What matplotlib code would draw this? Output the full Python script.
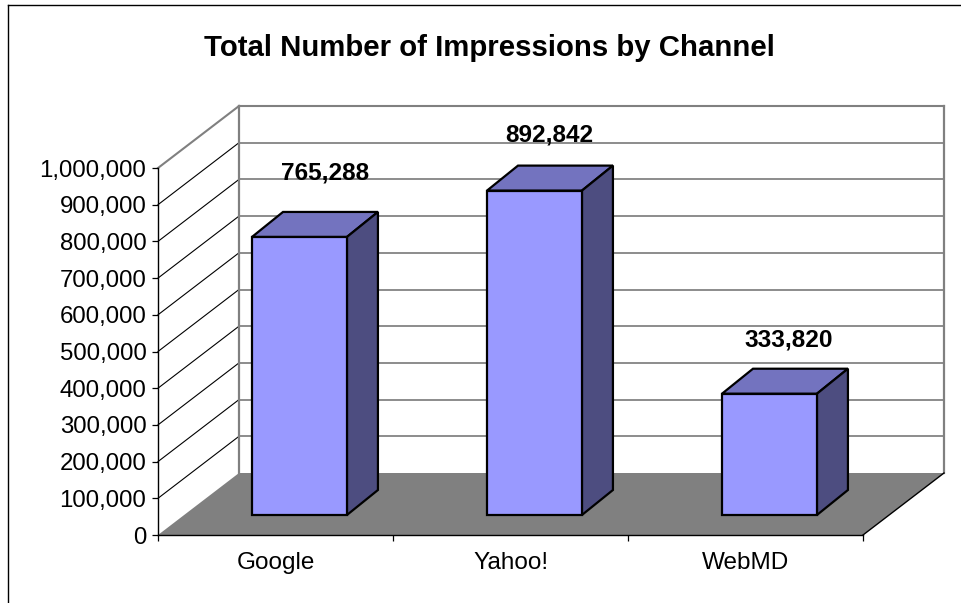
import matplotlib
matplotlib.use("Agg")
import matplotlib.pyplot as plt
from matplotlib.lines import Line2D

plt.rcParams['font.family'] = ['Liberation Sans', 'DejaVu Sans']

channels = ['Google', 'Yahoo!', 'WebMD']
impressions = [765288, 892842, 333820]
y_ticks = [0, 100000, 200000, 300000, 400000, 500000, 600000, 700000, 800000, 900000, 1000000]

W, H = 962, 603
fig = plt.figure(figsize=(W / 100, H / 100), dpi=100)
ax = fig.add_axes([158 / W, 1 - 535 / H, 705 / W, 367 / H])
ax.set_xlim(0, 3)
ax.set_ylim(0, 1000000)
ax.patch.set_visible(False)

# depth of the fake 3d box, in data units
wall_dx, wall_dy = 81 / 235, 62 / 367 * 1000000
bar_dx, bar_dy = 31 / 235, 25 / 367 * 1000000
bar_lift = 20 / 367 * 1000000
bar_shift = 0.102
bar_w = 0.404
bar_scale = 0.99
# the data labels were moved by hand in the original
label_gaps = [174000, 152000, 146000]
label_shifts = [0.108, 0.062, 0.083]

# floor
ax.fill([0, 3, 3 + wall_dx, wall_dx], [0, 0, wall_dy, wall_dy], color='#808080', lw=0, clip_on=False, zorder=1)
ax.plot([3, 3 + wall_dx], [0, wall_dy], color='black', lw=1, clip_on=False, zorder=2)

# back wall and side wall gridlines
for v in y_ticks[1:]:
    top = v == y_ticks[-1]
    ax.plot([wall_dx, 3 + wall_dx], [v + wall_dy, v + wall_dy], color='#808080' if top else '#6e6e6e',
            lw=1.5 if top else 1.1, clip_on=False, zorder=1)
    ax.plot([0, wall_dx], [v, v + wall_dy], color='#808080' if top else 'black',
            lw=1.5 if top else 0.8, clip_on=False, zorder=1)
for xw in [wall_dx, 3 + wall_dx]:
    ax.plot([xw, xw], [wall_dy, 1000000 + wall_dy], color='#808080', lw=1.6, clip_on=False, zorder=1)

# bars
xpos = [i + 0.5 + bar_shift for i in range(len(channels))]
heights = [v * bar_scale for v in impressions]
ax.bar(xpos, heights, bar_w, bottom=bar_lift, color='#9999FF', edgecolor='black', lw=1.6, clip_on=False, zorder=4)
for x, h, gap, shift, v in zip(xpos, heights, label_gaps, label_shifts, impressions):
    x0, x1 = x - bar_w / 2, x + bar_w / 2
    y0, y1 = bar_lift, bar_lift + h
    ax.fill([x0, x1, x1 + bar_dx, x0 + bar_dx], [y1, y1, y1 + bar_dy, y1 + bar_dy],
            facecolor='#7373BF', edgecolor='black', lw=1.6, clip_on=False, zorder=3)
    ax.fill([x1, x1 + bar_dx, x1 + bar_dx, x1], [y0, y0 + bar_dy, y1 + bar_dy, y1],
            facecolor='#4D4D80', edgecolor='black', lw=1.6, clip_on=False, zorder=3)
    ax.text(x + shift, y1 + gap, f'{v:,}', ha='center', va='center', fontsize=17.6,
            fontweight='bold', clip_on=False, zorder=5)

# axes
for s in ['top', 'right']:
    ax.spines[s].set_visible(False)
for s in ['left', 'bottom']:
    ax.spines[s].set_linewidth(1)
    ax.spines[s].set_zorder(2)
ax.set_yticks(y_ticks)
ax.set_yticklabels([f'{v:,}' for v in y_ticks], fontsize=17.3)
ax.tick_params(axis='y', length=4.3, width=0.9, pad=4)
ax.set_xticks([0, 1, 2, 3])
ax.set_xticklabels([])
ax.tick_params(axis='x', which='major', length=4.3, width=0.9)
ax.set_xticks([0.5, 1.5, 2.5], minor=True)
ax.set_xticklabels(channels, minor=True, fontsize=17.5)
ax.tick_params(axis='x', which='minor', length=0, pad=12)

fig.text(489.5 / W, 1 - 48 / H, 'Total Number of Impressions by Channel', ha='center', va='center',
         fontsize=21.2, fontweight='bold')

# chart frame, only top and left fall inside the image
fig.add_artist(Line2D([8 / W, 8 / W], [0, 1 - 5 / H], color='black', lw=1))
fig.add_artist(Line2D([8 / W, 1], [1 - 5 / H, 1 - 5 / H], color='black', lw=1))

fig.savefig('out.png', dpi=100)
